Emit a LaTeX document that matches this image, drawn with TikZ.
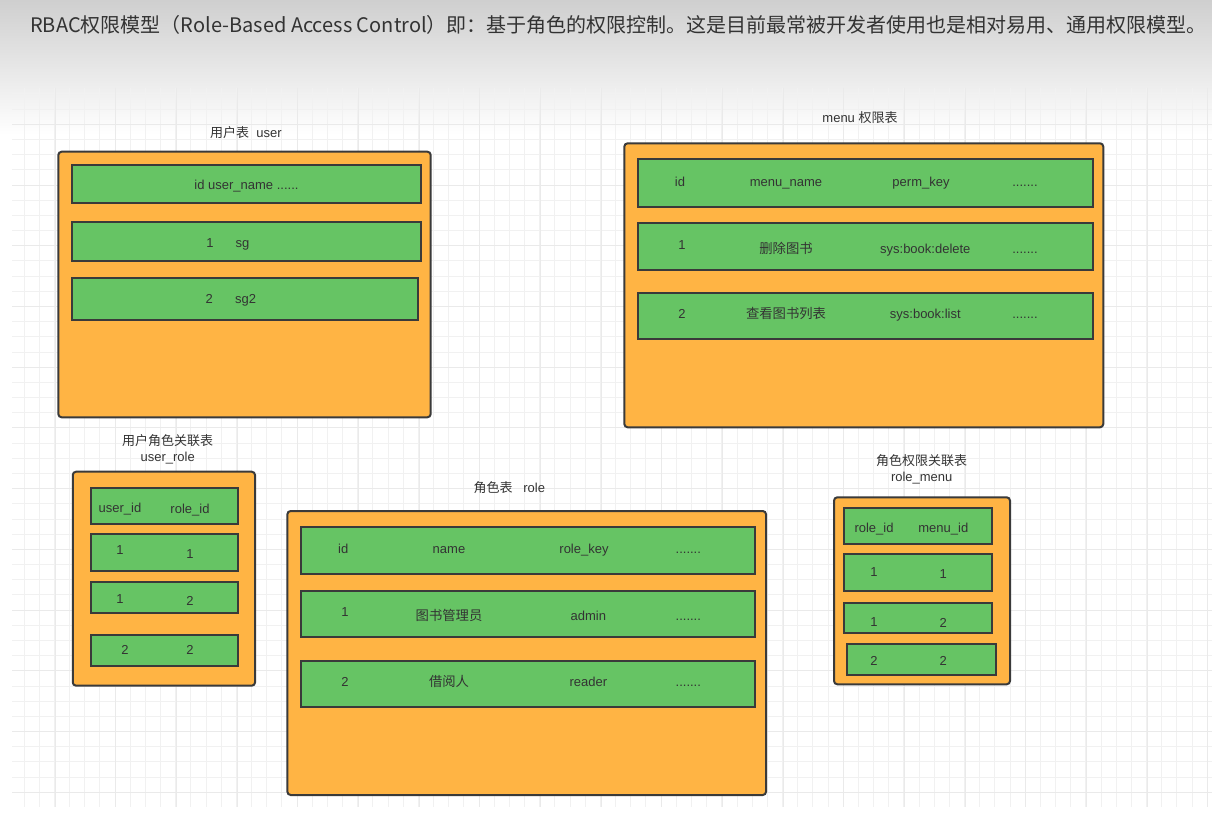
\documentclass[tikz,border=0pt]{standalone}
\usepackage{fontspec}
\setmainfont{Liberation Sans}
\newfontfamily\cjk{Noto Sans CJK SC}
\usepackage{tikz}
\usetikzlibrary{positioning}
\usepackage{xcolor}
\definecolor{rbacorange}{HTML}{FFB444}
\definecolor{rbacgreen}{HTML}{66C464}
\definecolor{rbacline}{HTML}{3A3A3A}
\definecolor{rbactext}{HTML}{333333}
\definecolor{rbactop}{HTML}{CFCFCF}
\definecolor{rbacgridminor}{HTML}{F1F1F1}
\definecolor{rbacgridmajor}{HTML}{EAEAEA}

\begin{document}
\begin{tikzpicture}[x=0.75pt, y=-0.75pt, font=\fontsize{9.75pt}{12pt}\selectfont,
    text=rbactext,
    boxsize/.style 2 args={minimum width=#1*0.75pt, minimum height=#2*0.75pt},
    tblbox/.style={draw=rbacline, fill=rbacorange, line width=1.5pt,
                   rounded corners=2.5pt, inner sep=0pt},
    rowbox/.style={draw=rbacline, fill=rbacgreen, line width=1.5pt, inner sep=0pt},
    celltext/.style={inner sep=0pt, text height=10pt, text depth=2pt},
    tbltitle/.style={align=center, inner sep=1pt}]
    \useasboundingbox (0,0) rectangle (1212,827);
    \fill[white] (0,0) rectangle (1212,827);
    \shade[top color=rbactop, bottom color=white] (0,0) rectangle (1212,135);
    % grid paper
    \foreach \i in {0,...,78}
        \draw[rbacgridminor, line width=0.75pt] ({24+15.17*\i},88) -- ({24+15.17*\i},807);
    \foreach \j in {0,...,46}
        \draw[rbacgridminor, line width=0.75pt] (12,{94+15.18*\j}) -- (1212,{94+15.18*\j});
    \foreach \k in {0,...,19}
        \draw[rbacgridmajor, line width=0.75pt] ({55+60.68*\k},88) -- ({55+60.68*\k},807);
    \foreach \k in {0,...,11}
        \draw[rbacgridmajor, line width=0.75pt] (12,{124.3+60.72*\k}) -- (1212,{124.3+60.72*\k});

    \node[anchor=west, inner sep=0pt, font=\cjk\fontsize{15pt}{18pt}\selectfont] (heading) at (30,25)
        {RBAC权限模型（Role-Based Access Control）即：基于角色的权限控制。这是目前最常被开发者使用也是相对易用、通用权限模型。};

    % user
    \node[tbltitle] (usertitle) at (246,132.5) {{\cjk 用户表}\ \ user};
    \node[tblbox, boxsize={372.4}{265.6}] (user) at (244.5,284.5) {};
    \node[rowbox, celltext, boxsize={348.4}{38.3}] (userhead) at (246.5,184.2) {id user\_name ......};
    \node[rowbox, boxsize={348.4}{38.7}] (userrowa) at (246.5,241.7) {};
    \node[rowbox, boxsize={346}{42.3}] (userrowb) at (245.3,298.9) {};
    \node[celltext] (useridA) at (210,242) {1};
    \node[celltext] (usernameA) at (242.5,242) {sg};
    \node[celltext] (useridB) at (209.3,298) {2};
    \node[celltext] (usernameB) at (245.5,298) {sg2};

    % menu
    \node[tbltitle] (menutitle) at (860,117.5) {menu {\cjk 权限表}};
    \node[tblbox, boxsize={479}{284}] (menu) at (863.8,285.3) {};
    \node[rowbox, boxsize={455}{47.4}] (menuhead) at (865.2,183) {};
    \node[rowbox, boxsize={455}{46.7}] (menurowa) at (865.2,246.7) {};
    \node[rowbox, boxsize={455}{46.6}] (menurowb) at (865.2,316) {};
    \node[celltext] (menuid) at (680,181) {id};
    \node[celltext] (menuname) at (786,181) {menu\_name};
    \node[celltext] (menuperm) at (921,181) {perm\_key};
    \node[celltext] (menumore) at (1025,181) {.......};
    \node[celltext] (menuidA) at (682,244) {1};
    \node[celltext, font=\cjk] (menunameA) at (786,247.7) {删除图书};
    \node[celltext] (menupermA) at (925.3,248) {sys:book:delete};
    \node[celltext] (menumoreA) at (1025,248) {.......};
    \node[celltext] (menuidB) at (682,313.3) {2};
    \node[celltext, font=\cjk] (menunameB) at (786,313) {查看图书列表};
    \node[celltext] (menupermB) at (925.3,313) {sys:book:list};
    \node[celltext] (menumoreB) at (1025,313) {.......};

    % user_role
    \node[tbltitle] (urtitle) at (167.7,449) {{\cjk 用户角色关联表}\\user\_role};
    \node[tblbox, boxsize={182.3}{214}] (userrole) at (163.9,578.7) {};
    \node[rowbox, boxsize={147.6}{36.6}] (urhead) at (164.5,506) {};
    \node[rowbox, boxsize={147.6}{36.7}] (urrowa) at (164.5,552.7) {};
    \node[rowbox, boxsize={147.6}{31}] (urrowb) at (164.5,597.8) {};
    \node[rowbox, boxsize={147.6}{31}] (urrowc) at (164.5,650.5) {};
    \node[celltext] (uruser) at (120,506.7) {user\_id};
    \node[celltext] (urrole) at (190,507.7) {role\_id};
    \node[celltext] (uruserA) at (120,549.3) {1};
    \node[celltext] (urroleA) at (190,552.7) {1};
    \node[celltext] (uruserB) at (120,598.3) {1};
    \node[celltext] (urroleB) at (190,600) {2};
    \node[celltext] (uruserC) at (125,649.3) {2};
    \node[celltext] (urroleC) at (190,649.3) {2};

    % role
    \node[tbltitle] (roletitle) at (509.3,488) {{\cjk 角色表}\ \ \ role};
    \node[tblbox, boxsize={478.7}{284}] (role) at (526.7,653) {};
    \node[rowbox, boxsize={454.3}{46.7}] (rolehead) at (527.8,550.7) {};
    \node[rowbox, boxsize={454.3}{46.3}] (rolerowa) at (527.8,614.2) {};
    \node[rowbox, boxsize={454.3}{46.6}] (rolerowb) at (527.8,684) {};
    \node[celltext] (roleid) at (343.3,547.7) {id};
    \node[celltext] (rolename) at (449,547.7) {name};
    \node[celltext] (rolekey) at (584,547.7) {role\_key};
    \node[celltext] (rolemore) at (688.3,547.7) {.......};
    \node[celltext] (roleidA) at (345,611) {1};
    \node[celltext, font=\cjk] (rolenameA) at (449,615) {图书管理员};
    \node[celltext] (rolekeyA) at (588.3,615) {admin};
    \node[celltext] (rolemoreA) at (688.3,615) {.......};
    \node[celltext] (roleidB) at (345,680.7) {2};
    \node[celltext, font=\cjk] (rolenameB) at (449,681) {借阅人};
    \node[celltext] (rolekeyB) at (588.3,681) {reader};
    \node[celltext] (rolemoreB) at (688.3,681) {.......};

    % role_menu
    \node[tbltitle] (rmtitle) at (921.7,469.5) {{\cjk 角色权限关联表}\\role\_menu};
    \node[tblbox, boxsize={176}{187}] (rolemenu) at (922,590.8) {};
    \node[rowbox, boxsize={148}{36.6}] (rmhead) at (918.3,526) {};
    \node[rowbox, boxsize={148}{36.7}] (rmrowa) at (918.3,572.7) {};
    \node[rowbox, boxsize={148}{30.6}] (rmrowb) at (918.3,618) {};
    \node[rowbox, boxsize={148.7}{31}] (rmrowc) at (921.7,659.5) {};
    \node[celltext] (rmrole) at (874,526.7) {role\_id};
    \node[celltext] (rmmenu) at (943.3,526.7) {menu\_id};
    \node[celltext] (rmroleA) at (874,571) {1};
    \node[celltext] (rmmenuA) at (943.3,572.7) {1};
    \node[celltext] (rmroleB) at (874,621) {1};
    \node[celltext] (rmmenuB) at (943.3,622) {2};
    \node[celltext] (rmroleC) at (874,660) {2};
    \node[celltext] (rmmenuC) at (943.3,660) {2};
\end{tikzpicture}
\end{document}
